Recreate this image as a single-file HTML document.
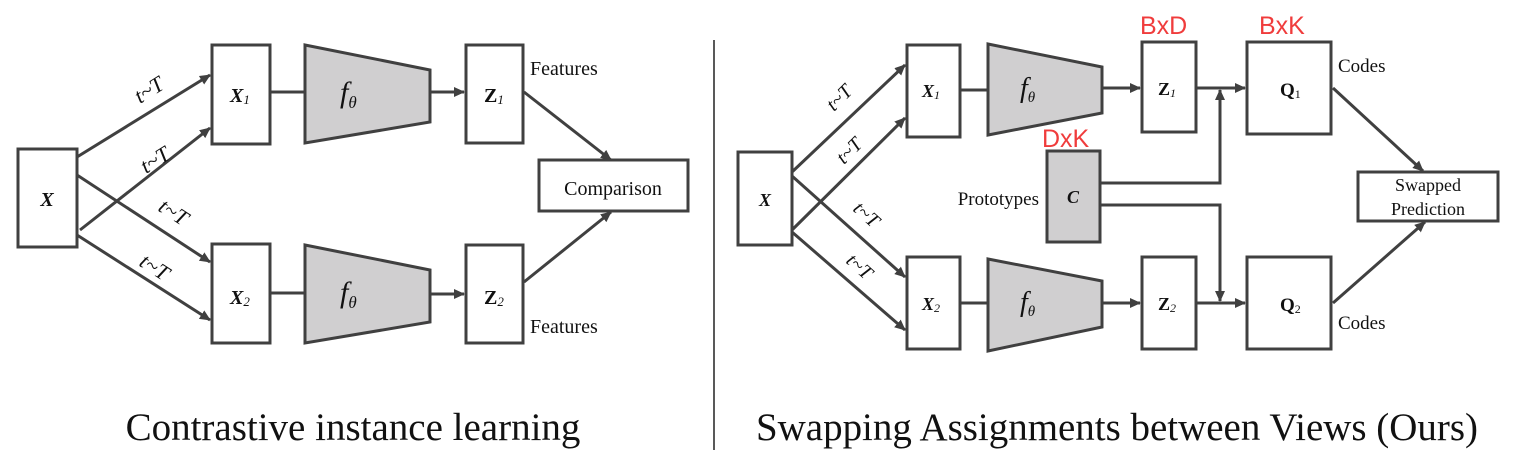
<!DOCTYPE html>
<html><head><meta charset="utf-8"><style>
html,body{margin:0;padding:0;background:#fff;width:1534px;height:460px;overflow:hidden}
svg{display:block}
.s{font-family:"Liberation Serif",serif;fill:#111}
.r{font-family:"Liberation Sans",sans-serif;fill:#f03c3c;font-size:25px}
</style></head><body>
<svg width="1534" height="460" viewBox="0 0 1534 460">
<defs><marker id="a" markerWidth="11" markerHeight="10" refX="10" refY="5" orient="auto" markerUnits="userSpaceOnUse"><path d="M0,0 L11,5 L0,10 Z" fill="#404040"/></marker></defs>
<g stroke="#404040" stroke-width="3" fill="none">
<rect x="18" y="149" width="59" height="98" fill="#fff"/>
<rect x="212" y="45" width="58" height="99" fill="#fff"/>
<rect x="212" y="244" width="58" height="99" fill="#fff"/>
<polygon points="305,45 430,70 430,122 305,143" fill="#d0cfd0"/>
<polygon points="305,245 430,270 430,322 305,343" fill="#d0cfd0"/>
<rect x="466" y="45" width="57" height="98" fill="#fff"/>
<rect x="466" y="245" width="57" height="98" fill="#fff"/>
<rect x="539" y="160" width="149" height="51" fill="#fff"/>
<line x1="270" y1="92" x2="305" y2="92"/>
<line x1="270" y1="293" x2="305" y2="293"/>
<line x1="430" y1="92" x2="464" y2="92" marker-end="url(#a)"/>
<line x1="430" y1="294" x2="464" y2="294" marker-end="url(#a)"/>
<line x1="77" y1="157" x2="210" y2="75" marker-end="url(#a)"/>
<line x1="80" y1="230" x2="210" y2="128" marker-end="url(#a)"/>
<line x1="77" y1="175" x2="210" y2="262" marker-end="url(#a)"/>
<line x1="77" y1="235" x2="210" y2="320" marker-end="url(#a)"/>
<line x1="524" y1="92" x2="611" y2="160" marker-end="url(#a)"/>
<line x1="524" y1="282" x2="611" y2="212" marker-end="url(#a)"/>
<line x1="714" y1="40" x2="714" y2="450" stroke-width="1.5" stroke="#222"/>
<rect x="738" y="152" width="54" height="93" fill="#fff"/>
<rect x="907" y="45" width="53" height="92" fill="#fff"/>
<rect x="907" y="257" width="53" height="92" fill="#fff"/>
<polygon points="988,44 1102,67 1102,113 988,135" fill="#d0cfd0"/>
<polygon points="988,259 1102,281 1102,327 988,351" fill="#d0cfd0"/>
<rect x="1142" y="42" width="54" height="90" fill="#fff"/>
<rect x="1142" y="257" width="54" height="92" fill="#fff"/>
<rect x="1247" y="42" width="84" height="92" fill="#fff"/>
<rect x="1247" y="257" width="84" height="92" fill="#fff"/>
<rect x="1047" y="151" width="53" height="91" fill="#d0cfd0"/>
<rect x="1358" y="172" width="140" height="49" fill="#fff"/>
<line x1="960" y1="90" x2="988" y2="90"/>
<line x1="960" y1="303" x2="988" y2="303"/>
<line x1="1102" y1="88" x2="1140" y2="88" marker-end="url(#a)"/>
<line x1="1102" y1="303" x2="1140" y2="303" marker-end="url(#a)"/>
<line x1="1196" y1="88" x2="1245" y2="88" marker-end="url(#a)"/>
<line x1="1196" y1="303" x2="1245" y2="303" marker-end="url(#a)"/>
<polyline points="1100,183 1220,183 1220,90" marker-end="url(#a)"/>
<polyline points="1100,205 1220,205 1220,301" marker-end="url(#a)"/>
<line x1="792" y1="172" x2="905" y2="65" marker-end="url(#a)"/>
<line x1="792" y1="230" x2="905" y2="118" marker-end="url(#a)"/>
<line x1="792" y1="176" x2="905" y2="277" marker-end="url(#a)"/>
<line x1="792" y1="232" x2="905" y2="330" marker-end="url(#a)"/>
<line x1="1333" y1="88" x2="1423" y2="171" marker-end="url(#a)"/>
<line x1="1333" y1="303" x2="1425" y2="222" marker-end="url(#a)"/>
</g>
<g class="s">
<text x="47" y="206" font-size="20" font-weight="bold" font-style="italic" text-anchor="middle">X</text>
<text x="230" y="102" font-size="20" font-weight="bold" font-style="italic">X<tspan font-size="13" font-weight="normal" dy="2">1</tspan></text>
<text x="230" y="304" font-size="20" font-weight="bold" font-style="italic">X<tspan font-size="13" font-weight="normal" dy="2">2</tspan></text>
<text x="484" y="102" font-size="20" font-weight="bold">Z<tspan font-size="13" font-weight="normal" font-style="italic" dy="2">1</tspan></text>
<text x="484" y="304" font-size="20" font-weight="bold">Z<tspan font-size="13" font-weight="normal" font-style="italic" dy="2">2</tspan></text>
<text x="340" y="102" font-size="30" font-style="italic">f<tspan font-size="17" dy="6">θ</tspan></text>
<text x="340" y="302" font-size="30" font-style="italic">f<tspan font-size="17" dy="6">θ</tspan></text>
<text x="530" y="75" font-size="20">Features</text>
<text x="530" y="333" font-size="20">Features</text>
<text x="613" y="195" font-size="20" text-anchor="middle">Comparison</text>
<text font-size="22" font-style="italic" transform="translate(140,104) rotate(-32)">t~T</text>
<text font-size="22" font-style="italic" transform="translate(146,174) rotate(-32)">t~T</text>
<text font-size="22" font-style="italic" transform="translate(157,210) rotate(33)">t~T</text>
<text font-size="22" font-style="italic" transform="translate(138,265) rotate(33)">t~T</text>
<text x="353" y="440" font-size="39" text-anchor="middle">Contrastive instance learning</text>
<text x="765" y="206" font-size="18" font-weight="bold" font-style="italic" text-anchor="middle">X</text>
<text x="922" y="97" font-size="18" font-weight="bold" font-style="italic">X<tspan font-size="12" font-weight="normal" dy="2">1</tspan></text>
<text x="922" y="310" font-size="18" font-weight="bold" font-style="italic">X<tspan font-size="12" font-weight="normal" dy="2">2</tspan></text>
<text x="1158" y="95" font-size="18" font-weight="bold">Z<tspan font-size="12" font-weight="normal" font-style="italic" dy="2">1</tspan></text>
<text x="1158" y="310" font-size="18" font-weight="bold">Z<tspan font-size="12" font-weight="normal" font-style="italic" dy="2">2</tspan></text>
<text x="1280" y="96" font-size="19" font-weight="bold">Q<tspan font-size="12" font-weight="normal" dy="2">1</tspan></text>
<text x="1280" y="311" font-size="19" font-weight="bold">Q<tspan font-size="12" font-weight="normal" dy="2">2</tspan></text>
<text x="1073" y="203" font-size="18" font-weight="bold" font-style="italic" text-anchor="middle">C</text>
<text x="1020" y="97" font-size="28" font-style="italic">f<tspan font-size="15" dy="5">θ</tspan></text>
<text x="1020" y="311" font-size="28" font-style="italic">f<tspan font-size="15" dy="5">θ</tspan></text>
<text x="1338" y="72" font-size="19">Codes</text>
<text x="1338" y="329" font-size="19">Codes</text>
<text x="1039" y="205" font-size="19" text-anchor="end">Prototypes</text>
<text x="1428" y="191" font-size="18" text-anchor="middle">Swapped</text>
<text x="1428" y="215" font-size="18" text-anchor="middle">Prediction</text>
<text font-size="20" font-style="italic" transform="translate(834,112) rotate(-45)">t~T</text>
<text font-size="20" font-style="italic" transform="translate(844,165) rotate(-45)">t~T</text>
<text font-size="20" font-style="italic" transform="translate(852,210) rotate(42)">t~T</text>
<text font-size="20" font-style="italic" transform="translate(845,262) rotate(42)">t~T</text>
<text x="1117" y="440" font-size="39" text-anchor="middle" textLength="722" lengthAdjust="spacingAndGlyphs">Swapping Assignments between Views (Ours)</text>
</g>
<text class="r" x="1140" y="34">BxD</text>
<text class="r" x="1259" y="34">BxK</text>
<text class="r" x="1042" y="147">DxK</text>
</svg>
</body></html>
